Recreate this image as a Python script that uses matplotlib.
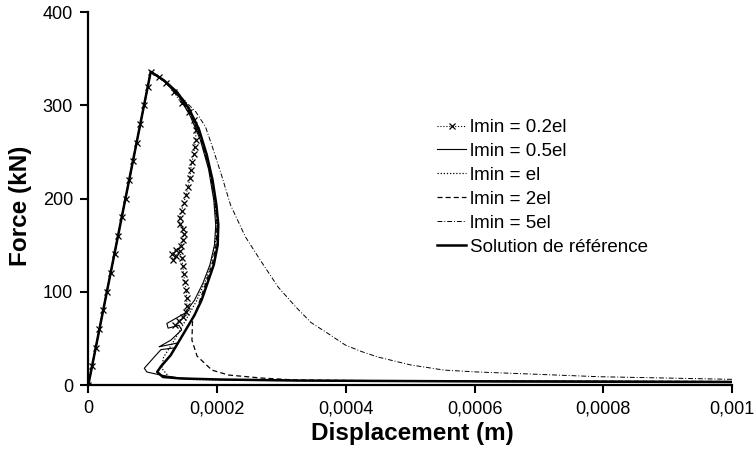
import numpy as np
import matplotlib
matplotlib.use('Agg')
import matplotlib.pyplot as plt

plt.rcParams['font.family'] = ['Liberation Sans', 'DejaVu Sans']

# Displacement values are in units of 1e-4 m, force in kN
X_UNIT = 1e-4

# lmin = 0.2el (dotted + x markers)
x_02 = [0, 0.06, 0.12, 0.17, 0.23, 0.29, 0.35, 0.41, 0.46, 0.52, 0.58, 0.64, 0.70, 0.75, 0.81, 0.87, 0.93,
        0.97, 1.10, 1.21, 1.33, 1.45, 1.56, 1.64, 1.67, 1.67, 1.65, 1.64, 1.61, 1.59, 1.58, 1.55, 1.52,
        1.48, 1.45, 1.42, 1.42, 1.47, 1.48, 1.47, 1.44, 1.36, 1.30, 1.31, 1.36, 1.42, 1.45, 1.47, 1.48,
        1.50, 1.52, 1.53, 1.53, 1.52, 1.47, 1.41, 1.35]
f_02 = [0, 20, 40, 60, 80, 100, 120, 140, 160, 180, 200, 220, 240, 260, 280, 300, 320,
        336, 330, 324, 314, 302, 293, 284, 274, 263, 255, 248, 239, 231, 222, 212, 204,
        195, 187, 179, 173, 167, 162, 156, 149, 145, 141, 134, 138, 144, 136, 128, 119,
        111, 102, 93, 85, 78, 73, 69, 64]

# lmin = 0.5el (thin solid)
x_05 = [0, 0.97, 1.19, 1.41, 1.58, 1.74, 1.87, 1.95, 1.98, 1.96, 1.89, 1.78, 1.65, 1.50, 1.22, 1.24,
        1.41, 1.45, 1.28, 1.10, 1.38, 1.36, 1.13, 1.05, 0.87, 0.91, 1.10, 1.41, 1.92, 3.26, 10.0]
f_05 = [0, 336, 325, 309, 289, 263, 231, 198, 171, 150, 129, 109, 91, 77, 66, 61,
        64, 59, 48, 41, 45, 40, 38, 32, 18, 14, 11, 7.5, 5.9, 4.8, 3.8]

# lmin = el (dotted)
x_1 = [0, 0.97, 1.18, 1.39, 1.57, 1.73, 1.86, 1.95, 1.99, 1.98, 1.92, 1.82, 1.68, 1.50, 1.31, 1.17,
       1.14, 1.25, 1.56, 2.5, 5.0, 10.0]
f_1 = [0, 336, 326, 312, 294, 269, 238, 205, 178, 155, 134, 112, 90, 68, 45, 30,
       18, 9, 6, 5, 4.2, 3.6]

# lmin = 2el (dashed)
x_2 = [0, 0.97, 1.19, 1.40, 1.58, 1.74, 1.87, 1.96, 2.00, 1.99, 1.93, 1.83, 1.70, 1.62, 1.61, 1.69,
       1.92, 2.18, 2.69, 3.22, 5.0, 10.0]
f_2 = [0, 336, 326, 311, 292, 266, 234, 201, 174, 152, 131, 110, 84, 70, 48, 31,
       16, 10.7, 7.5, 5.4, 4.3, 3.8]

# lmin = 5el (dash-dot)
x_5 = [0, 0.97, 1.25, 1.48, 1.67, 1.82, 1.92, 2.07, 2.21, 2.44, 2.69, 2.95, 3.22, 3.46, 3.73, 3.99,
       4.24, 4.50, 5.01, 5.53, 6.04, 7.94, 10.0]
f_5 = [0, 336, 323, 306, 293, 277, 257, 225, 193, 159, 132, 105, 84, 67, 55, 43,
       36, 30, 21.5, 16, 14, 8.9, 6.1]

# reference solution (thick solid)
x_ref = [0, 0.97, 1.17, 1.38, 1.56, 1.72, 1.84, 1.93, 1.99, 2.02, 2.01, 1.95, 1.84, 1.76, 1.65, 1.47,
         1.28, 1.13, 1.07, 1.16, 1.44, 2.06, 3.26, 6.35, 10.0]
f_ref = [0, 336, 327, 314, 297, 274, 247, 220, 193, 172, 150, 129, 107, 91, 75, 54,
         32, 20, 14, 8.6, 7.0, 5.9, 4.8, 3.8, 3.2]

x_ticks = [0, 0.0002, 0.0004, 0.0006, 0.0008, 0.001]
x_tick_labels = ['0', '0,0002', '0,0004', '0,0006', '0,0008', '0,001']
y_ticks = [0, 100, 200, 300, 400]


def to_m(xs):
    return np.array(xs) * X_UNIT


fig = plt.figure(figsize=(7.54, 4.57), dpi=100)
ax = fig.add_axes([0.1171, 0.1575, 0.8537, 0.8162])

ax.plot(to_m(x_02), f_02, color='k', linestyle=':', linewidth=0.8,
        marker='x', markersize=5, markeredgewidth=0.9, label='lmin = 0.2el')
ax.plot(to_m(x_05), f_05, color='k', linestyle='-', linewidth=0.8, label='lmin = 0.5el')
ax.plot(to_m(x_1), f_1, color='k', linestyle=(0, (1, 1.5)), linewidth=0.9, label='lmin = el')
ax.plot(to_m(x_2), f_2, color='k', linestyle=(0, (4, 2.5)), linewidth=0.9, label='lmin = 2el')
ax.plot(to_m(x_5), f_5, color='k', linestyle=(0, (5, 2, 1, 2)), linewidth=0.7, label='lmin = 5el')
ax.plot(to_m(x_ref), f_ref, color='k', linestyle='-', linewidth=1.8, label='Solution de référence')

ax.set_xlim(0, 0.001)
ax.set_ylim(0, 400)
ax.set_xticks(x_ticks)
ax.set_xticklabels(x_tick_labels)
ax.set_yticks(y_ticks)

for side in ['top', 'right']:
    ax.spines[side].set_visible(False)
for side in ['left', 'bottom']:
    ax.spines[side].set_linewidth(1.6)
ax.tick_params(axis='both', direction='out', length=6, width=1.5, labelsize=13, pad=5)

ax.set_xlabel('Displacement (m)', fontsize=17.5, fontweight='bold')
ax.set_ylabel('Force (kN)', fontsize=17.5, fontweight='bold')
ax.xaxis.set_label_coords(0.504, -0.098)
ax.yaxis.set_label_coords(-0.0875, 0.48)

ax.legend(loc='upper left', bbox_to_anchor=(437 / 754, 1 - 119 / 457), bbox_transform=fig.transFigure,
          frameon=False, fontsize=13.5, handlelength=1.55, handletextpad=0.2, labelspacing=0.36,
          borderpad=0, borderaxespad=0)

fig.savefig('out.png', dpi=100)
